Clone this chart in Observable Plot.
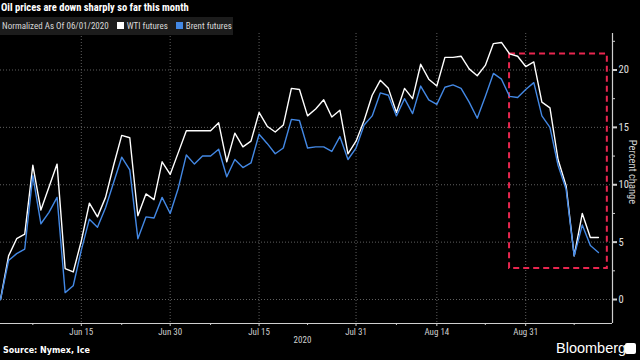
<!DOCTYPE html>
<html>
<head>
<meta charset="utf-8">
<script src="https://cdn.jsdelivr.net/npm/d3@7"></script>
<script src="https://cdn.jsdelivr.net/npm/@observablehq/plot@0.6"></script>
<style>
  html, body { margin: 0; padding: 0; background: #000; }
  #wrap { position: relative; width: 640px; height: 360px; background: #000; overflow: hidden;
          font-family: "Liberation Sans Narrow", "Roboto Condensed", "Liberation Sans", sans-serif; }
  #wrap svg { position: absolute; left: 0; top: 0; }
  .abs { position: absolute; white-space: nowrap; }
  #subtitle { left: 1px; top: 1px; font-size: 10.5px; font-weight: bold; color: #fff; }
  #legend { left: 0; top: 17px; width: 233px; height: 18px; background: #1c1c1c; font-size: 9px; color: #d8d8d8; line-height: 18px; }
  #legend span.sw { display: inline-block; width: 7px; height: 7px; vertical-align: -0px; margin: 0 3px 0 8px; }
  #source { left: 3px; top: 346px; font-size: 8px; font-weight: bold; color: #fff; font-family: "DejaVu Sans", sans-serif; }
  #brand { left: 556px; top: 340px; font-size: 14.5px; color: #fff; font-family: "Liberation Sans", sans-serif; }
  #logo { left: 625px; top: 343px; width: 11px; height: 11px; background: #fff; border-radius: 2px; }
  #ylab { left: 632px; top: 172px; font-size: 10.5px; color: #cfcfcf; transform: translate(-50%, -50%) rotate(90deg); transform-origin: center; }
</style>
</head>
<body>
<div id="wrap"></div>
<script>
// ---- data ----
const tradingDayIndex = d3.range(0, 75); // trading days from 06/01/2020 to 09/11/2020
const wti = [0, 3.8, 5.3, 5.7, 11.7, 7.8, 9.8, 11.8, 2.7, 2.4,
  5.1, 8.4, 7.2, 8.9, 11.7, 14.3, 14.1, 7.3, 9.2, 8.7,
  12.0, 10.9, 12.8, 14.7, 14.7, 14.7, 14.7, 15.4, 12.0, 14.5,
  13.3, 13.8, 16.3, 15.1, 14.6, 15.2, 18.4, 18.3, 16.0, 16.6,
  17.4, 15.9, 16.5, 12.7, 13.8, 15.6, 17.8, 19.1, 18.4, 16.3,
  18.4, 17.5, 20.5, 19.2, 18.6, 21.1, 21.1, 21.2, 20.1, 19.5,
  20.4, 22.3, 22.4, 21.4, 21.2, 20.3, 20.7, 17.2, 16.7, 12.2,
  9.9, 3.8, 7.5, 5.4, 5.4];
const brent = [0, 3.4, 4.0, 4.4, 10.8, 6.6, 7.6, 8.9, 0.6, 1.2,
  4.3, 7.0, 6.3, 8.0, 10.2, 12.4, 11.3, 5.3, 7.2, 7.1,
  8.9, 7.5, 9.7, 12.6, 11.8, 12.5, 12.5, 13.1, 10.7, 12.2,
  11.5, 11.9, 14.4, 13.6, 12.7, 13.2, 15.7, 15.6, 13.2, 13.3,
  13.3, 12.9, 14.2, 12.2, 13.2, 15.2, 16.0, 18.0, 17.8, 16.0,
  17.5, 16.2, 18.6, 17.4, 17.0, 18.5, 18.7, 18.4, 17.2, 15.8,
  17.7, 19.7, 19.2, 17.7, 17.6, 18.3, 18.9, 16.0, 15.0, 11.7,
  9.6, 3.8, 6.5, 4.7, 4.1];
const xTickIndex = [10, 21, 32, 44, 54, 65];
const xTickLabels = ["Jun 15", "Jun 30", "Jul 15", "Jul 31", "Aug 14", "Aug 31"];
const xMinorIndex = [4, 15, 26, 38, 49, 60, 71];
const yTicks = [0, 5, 10, 15, 20];
const yMinorTicks = [2.5, 7.5, 12.5, 17.5, 22.5];
const highlightStart = [63];   // trading-day index of highlight box
const highlightEnd = [75.1];
const highlightLow = [2.7];
const highlightHigh = [21.4];
const xDomain = [0, 75.74];
const yDomain = [-2.09, 23.18];

const rowsW = tradingDayIndex.map((i) => ({i, v: wti[i]}));
const rowsB = tradingDayIndex.map((i) => ({i, v: brent[i]}));
const box = highlightStart.map((s, k) => ({x1: s, x2: highlightEnd[k], y1: highlightLow[k], y2: highlightHigh[k]}));
const labelMap = new Map(xTickIndex.map((t, k) => [t, xTickLabels[k]]));

const grid = {stroke: "#777", strokeOpacity: 0.8, strokeDasharray: "1,2", strokeWidth: 1};
const axisColor = "#cfcfcf";

const chart = Plot.plot({
  width: 640,
  height: 360,
  marginLeft: 0,
  marginRight: 28,
  marginTop: 33,
  marginBottom: 37,
  style: {background: "transparent", color: axisColor, fontSize: "9px",
          fontFamily: "'Liberation Sans Narrow', 'Roboto Condensed', 'Liberation Sans', sans-serif"},
  x: {domain: xDomain, axis: null},
  y: {domain: yDomain, axis: null},
  marks: [
    Plot.ruleY(yTicks, grid),
    Plot.ruleX(xTickIndex, grid),
    Plot.ruleY([yDomain[0]], {stroke: axisColor, strokeWidth: 1.2}),
    Plot.ruleX([xDomain[1]], {stroke: axisColor, strokeWidth: 1.2}),
    Plot.axisY(yTicks, {anchor: "right", tickSize: 4, tickPadding: 2, strokeWidth: 2, fill: "#e0e0e0", fontSize: 10.5, label: null}),
    Plot.axisY(yMinorTicks, {anchor: "right", tickSize: 2, tickFormat: () => "", label: null}),
    Plot.axisX(xTickIndex, {anchor: "bottom", tickSize: 3, tickPadding: 2, tickFormat: (d) => labelMap.get(d), fill: axisColor, fontSize: 9, label: null}),
    Plot.axisX(xMinorIndex, {anchor: "bottom", tickSize: 2, tickFormat: () => "", label: null}),
    Plot.text(["2020"], {x: () => (xDomain[0] + xDomain[1]) / 2 - 0.5, y: () => yDomain[0], dy: 17, fill: axisColor, fontSize: 9, text: (d) => d}),
    Plot.rect(box, {x1: "x1", x2: "x2", y1: "y1", y2: "y2", fill: "none", stroke: "#e8264f", strokeWidth: 2, strokeDasharray: "6,4"}),
    Plot.line(rowsW, {x: "i", y: "v", stroke: "#ffffff", strokeWidth: 1.4}),
    Plot.line(rowsB, {x: "i", y: "v", stroke: "#4388e4", strokeWidth: 1.4})
  ]
});

const wrap = document.getElementById("wrap");
wrap.appendChild(chart);
wrap.insertAdjacentHTML("beforeend", `
  <div class="abs" id="subtitle">Oil prices are down sharply so far this month</div>
  <div class="abs" id="legend">&nbsp;Normalized As Of 06/01/2020<span class="sw" style="background:#fff"></span>WTI futures<span class="sw" style="background:#4388e4"></span>Brent futures</div>
  <div class="abs" id="ylab">Percent change</div>
  <div class="abs" id="source">Source: Nymex, Ice</div>
  <div class="abs" id="brand">Bloomberg</div>
  <div class="abs" id="logo"></div>
`);
</script>
</body>
</html>
